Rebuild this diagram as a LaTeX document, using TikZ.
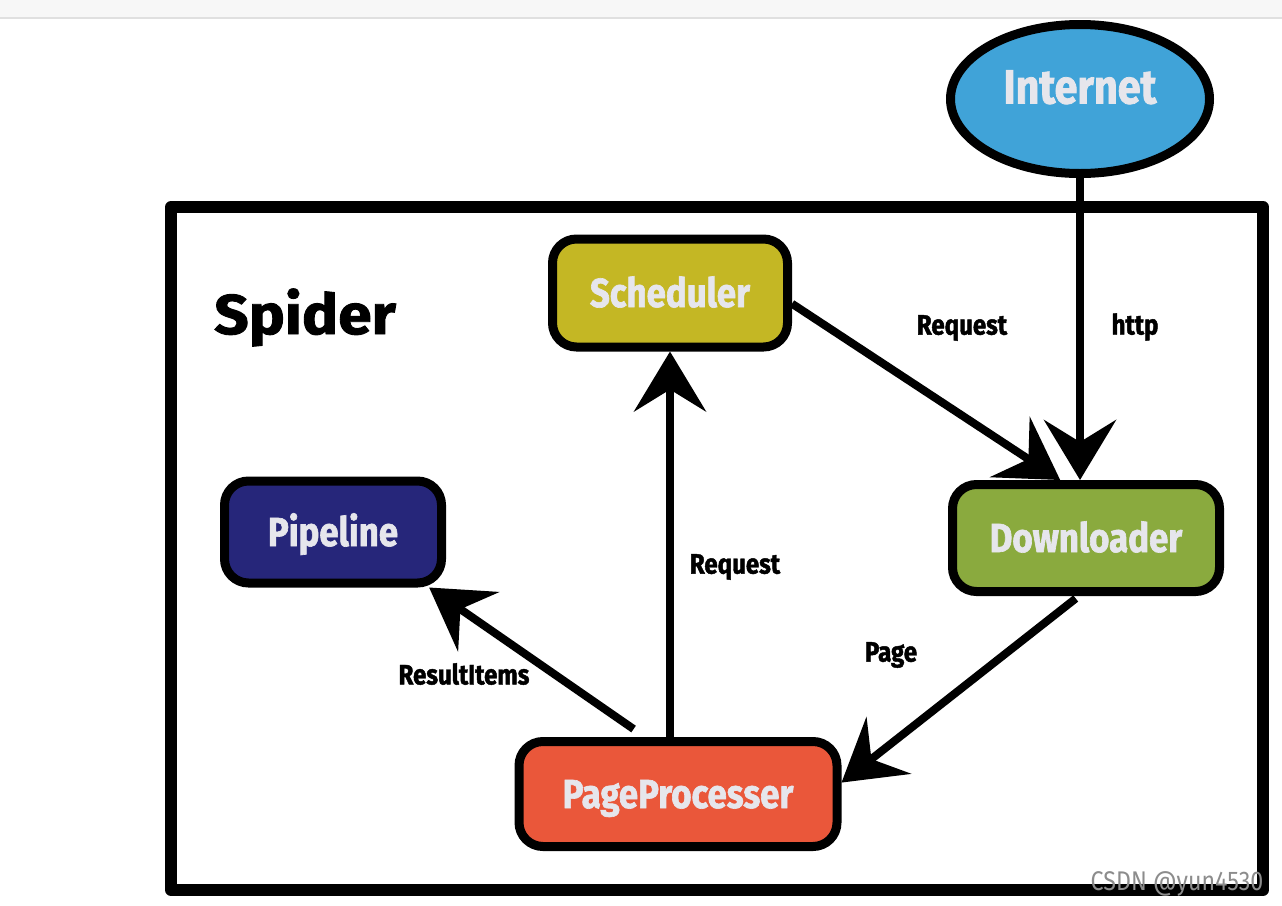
\documentclass[tikz,border=0pt]{standalone}
\usepackage{fontspec}
\setmainfont{Fira Sans}[FakeStretch=0.86, BoldFeatures={FakeBold=1.6}]
\newfontfamily\titlefont{Fira Sans}[FakeStretch=1.08, BoldFeatures={FakeBold=1.6}]
\usepackage{tikz}
\usetikzlibrary{arrows.meta,calc,positioning,shapes.geometric}

\definecolor{inetblue}{RGB}{64,163,216}
\definecolor{schedyellow}{RGB}{196,183,36}
\definecolor{dlgreen}{RGB}{138,170,62}
\definecolor{pipenavy}{RGB}{38,38,122}
\definecolor{pporange}{RGB}{234,87,58}
\definecolor{boxtext}{RGB}{230,230,236}

\begin{document}
\begin{tikzpicture}[x=1pt, y=-1pt,
    box/.style={draw=black, line width=9pt, rounded corners=24pt, text=boxtext,
        font=\fontsize{40.5}{42}\selectfont\bfseries, text height=28pt, text depth=0pt},
    flow/.style={line width=8pt, -{Stealth[length=60pt, width=72pt, inset=22pt]}},
    lbl/.style={font=\fontsize{28}{30}\selectfont\bfseries, text=black, inner sep=0pt},
    frame/.style={line width=12pt, line join=round}]
    \useasboundingbox (0,0) rectangle (1282,905);
    \fill[black!3] (0,0) rectangle (1282,18);
    \draw[black!12, line width=1.5pt] (0,18) -- (1282,18);

    \draw[frame] (171,207) rectangle (1263,890);
    \node[anchor=base west, inner sep=0pt, font=\titlefont\fontsize{56}{58}\selectfont\bfseries] (spider) at (214,334) {Spider};

    \node[ellipse, draw=black, line width=9pt, fill=inetblue, minimum width=259pt, minimum height=149pt] (inet) at (1080,99) {};
    \node[text=boxtext, inner sep=0pt, font=\fontsize{48}{50}\selectfont\bfseries, text height=33pt, text depth=0pt] (inettext) at (1080,87) {Internet};

    \node[box, fill=schedyellow, minimum width=235pt, minimum height=108pt] (sch) at (670,293) {Scheduler};
    \node[box, fill=dlgreen, minimum width=267pt, minimum height=107pt] (dl) at (1086,538) {Downloader};
    \node[box, fill=pipenavy, minimum width=217pt, minimum height=102pt] (pipe) at (333,532) {Pipeline};
    \node[box, fill=pporange, minimum width=318pt, minimum height=105pt] (pp) at (678,794) {PageProcesser};

    \draw[flow] (inet.south) -- (inet.south |- dl.north);
    \draw[flow] (sch.-5) -- (dl.114);
    \draw[flow] (pp.north -| sch.south) -- (sch.south);
    \draw[flow, shorten <=14pt] (pp.120) -- (pipe.-30);
    \draw[flow, shorten <=4pt] (dl.-97) -- (pp.4);

    \node[lbl] (reqtop) at (962,328) {Request};
    \node[lbl] (http) at (1135,327) {http};
    \node[lbl] (reqmid) at (735,567) {Request};
    \node[lbl] (page) at (891,655) {Page};
    \node[lbl] (items) at (464,674) {ResultItems};

    \node[text=black!45, font=\fontsize{27}{29}\selectfont] (mark) at (1177,884) {CSDN @yun4530};
\end{tikzpicture}
\end{document}
